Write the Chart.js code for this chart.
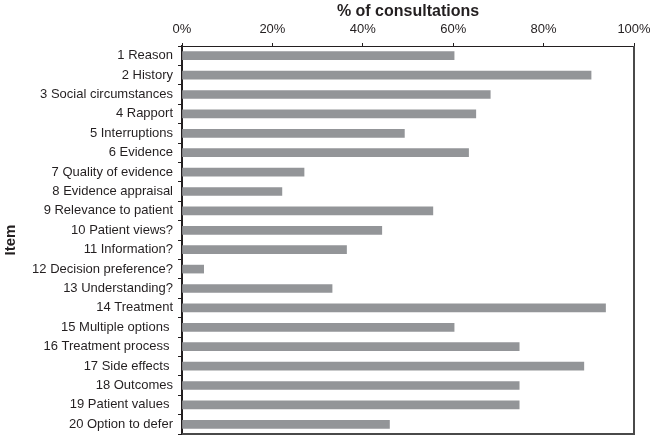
<!DOCTYPE html>
<html>
<head>
<meta charset="utf-8">
<script src="https://cdn.jsdelivr.net/npm/chart.js@4.4.1/dist/chart.umd.min.js"></script>
<style>
  html, body { margin: 0; padding: 0; background: #fff; }
  #wrap { width: 650px; height: 436px; }
</style>
</head>
<body>
<div id="wrap"><canvas id="myChart"></canvas></div>
<script>
const items = [
  "1 Reason", "2 History", "3 Social circumstances", "4 Rapport",
  "5 Interruptions", "6 Evidence", "7 Quality of evidence",
  "8 Evidence appraisal", "9 Relevance to patient", "10 Patient views?",
  "11 Information?", "12 Decision preference?", "13 Understanding?",
  "14 Treatment", "15 Multiple options ", "16 Treatment process ",
  "17 Side effects ", "18 Outcomes", "19 Patient values ", "20 Option to defer"
];
const consultations = [
  60.2, 90.5, 68.2, 65.0, 49.2, 63.4, 27.0, 22.1, 55.5, 44.2,
  36.4, 4.8, 33.2, 93.7, 60.2, 74.6, 88.9, 74.6, 74.6, 45.9
];
const xTicks = [0, 20, 40, 60, 80, 100];

const textColor = "#231f20";
const fontFamily = "'Liberation Sans', Arial, Helvetica, sans-serif";

// right and bottom edges of the plot frame
const frameBorder = {
  id: "frameBorder",
  afterDatasetsDraw(chart) {
    const { ctx, chartArea } = chart;
    ctx.save();
    ctx.strokeStyle = "#4a4a4a";
    ctx.lineWidth = 2;
    ctx.beginPath();
    ctx.moveTo(chartArea.right, chartArea.top);
    ctx.lineTo(chartArea.right, chartArea.bottom);
    ctx.lineTo(chartArea.left, chartArea.bottom);
    ctx.stroke();
    ctx.restore();
  }
};

const ctx = document.getElementById("myChart").getContext("2d");
new Chart(ctx, {
  type: "bar",
  data: {
    labels: items,
    datasets: [{
      data: consultations,
      backgroundColor: "#939598",
      borderWidth: 0,
      barThickness: 8
    }]
  },
  options: {
    indexAxis: "y",
    responsive: true,
    maintainAspectRatio: false,
    animation: false,
    layout: { padding: { top: 2, right: 16, bottom: 2, left: 0 } },
    plugins: {
      legend: { display: false },
      tooltip: { enabled: false }
    },
    scales: {
      x: {
        position: "top",
        min: 0,
        max: 100,
        afterBuildTicks(scale) {
          scale.ticks = xTicks.map(v => ({ value: v }));
        },
        afterFit(scale) {
          scale.height = 44;
          scale.paddingLeft = 0;
          scale.paddingRight = 0;
        },
        grid: { drawOnChartArea: false, drawTicks: true, tickLength: 3, color: "#231f20" },
        border: { display: true, color: "#231f20", width: 1 },
        ticks: {
          color: textColor,
          font: { family: fontFamily, size: 13 },
          padding: 6,
          maxRotation: 0,
          callback: v => v + "%"
        },
        title: {
          display: true,
          text: "% of consultations",
          color: textColor,
          font: { family: fontFamily, size: 16, weight: "bold" },
          padding: { top: 0, bottom: 0 }
        }
      },
      y: {
        afterFit(scale) {
          scale.width = 182;
          scale.paddingTop = 0;
          scale.paddingBottom = 0;
        },
        grid: { drawOnChartArea: false, drawTicks: true, tickLength: 4, offset: true, color: "#231f20" },
        border: { display: true, color: "#231f20", width: 2 },
        ticks: {
          color: textColor,
          font: { family: fontFamily, size: 13 },
          padding: 5,
          autoSkip: false
        },
        title: {
          display: true,
          text: "Item",
          color: textColor,
          font: { family: fontFamily, size: 15, weight: "bold" },
          padding: { top: 2, bottom: 0 }
        }
      }
    }
  },
  plugins: [frameBorder]
});
</script>
</body>
</html>
